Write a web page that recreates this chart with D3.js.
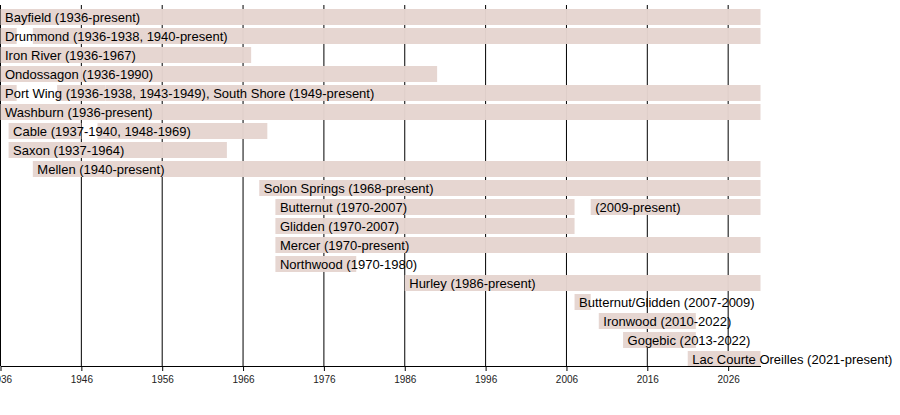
<!DOCTYPE html>
<html>
<head>
<meta charset="utf-8">
<script src="https://cdn.jsdelivr.net/npm/d3@7"></script>
<style>
  body { margin: 0; background: #fff; }
  text { font-family: "Liberation Sans", Arial, sans-serif; }
</style>
</head>
<body>
<div id="chart"></div>
<script>
// chart end ("present")
const END = 2030;

const labels = [
  'Bayfield (1936-present)',
  'Drummond (1936-1938, 1940-present)',
  'Iron River (1936-1967)',
  'Ondossagon (1936-1990)',
  'Port Wing (1936-1938, 1943-1949), South Shore (1949-present)',
  'Washburn (1936-present)',
  'Cable (1937-1940, 1948-1969)',
  'Saxon (1937-1964)',
  'Mellen (1940-present)',
  'Solon Springs (1968-present)',
  'Butternut (1970-2007)',
  'Glidden (1970-2007)',
  'Mercer (1970-present)',
  'Northwood (1970-1980)',
  'Hurley (1986-present)',
  'Butternut/Glidden (2007-2009)',
  'Ironwood (2010-2022)',
  'Gogebic (2013-2022)',
  'Lac Courte Oreilles (2021-present)'
];

// bar segments per row, [from, to]
const periods = [
  [[1936, END]],
  [[1936, 1938], [1940, END]],
  [[1936, 1967]],
  [[1936, 1990]],
  [[1936, 1938], [1943, 1949], [1949, END]],
  [[1936, END]],
  [[1937, 1946], [1948, 1969]],
  [[1937, 1964]],
  [[1940, END]],
  [[1968, END]],
  [[1970, 2007], [2009, END]],
  [[1970, 2007]],
  [[1970, END]],
  [[1970, 1980]],
  [[1986, END]],
  [[2007, 2009]],
  [[2010, 2022]],
  [[2013, 2022]],
  [[2021, END]]
];

// second label on the Butternut row
const extraLabels = [{ row: 10, year: 2009, text: '(2009-present)' }];

const tickYears = d3.range(1936, 2027, 10);

const width = 900, height = 415;
const axisY = 366;

const svg = d3.select('#chart').append('svg')
  .attr('width', width)
  .attr('height', height);

const x = d3.scaleLinear().domain([1936, END]).range([0.5, 760.5]);
const y = d3.scaleLinear().domain([0, labels.length - 1]).range([9, 351]);
const barH = 16;

// grid lines (behind bars)
svg.append('g')
  .selectAll('line')
  .data(tickYears)
  .join('line')
  .attr('x1', d => x(d)).attr('x2', d => x(d))
  .attr('y1', 5).attr('y2', axisY)
  .attr('stroke', '#000')
  .attr('stroke-width', 1);

// bars
const rowG = svg.append('g')
  .selectAll('g')
  .data(periods)
  .join('g')
  .attr('transform', (d, i) => `translate(0,${y(i)})`);

rowG.selectAll('rect')
  .data(d => d)
  .join('rect')
  .attr('x', d => x(d[0]))
  .attr('width', d => x(d[1]) - x(d[0]))
  .attr('height', barH)
  .attr('fill', '#e5d5cf')
  .attr('fill-opacity', 0.97);

// labels
svg.append('g')
  .selectAll('text')
  .data(labels)
  .join('text')
  .attr('x', (d, i) => x(periods[i][0][0]) + 4.5)
  .attr('y', (d, i) => y(i) + barH / 2)
  .attr('dy', '0.36em')
  .attr('font-size', 13)
  .attr('fill', '#000')
  .text(d => d);

svg.append('g')
  .selectAll('text')
  .data(extraLabels)
  .join('text')
  .attr('x', d => x(d.year) + 4.5)
  .attr('y', d => y(d.row) + barH / 2)
  .attr('dy', '0.36em')
  .attr('font-size', 13)
  .attr('fill', '#000')
  .text(d => d.text);

// axis
const axis = d3.axisBottom(x)
  .tickValues(tickYears)
  .tickFormat(d3.format('d'))
  .tickSize(5)
  .tickSizeOuter(0);

const ax = svg.append('g')
  .attr('transform', `translate(0,${axisY})`)
  .call(axis);

ax.select('.domain').attr('stroke', '#000');
ax.selectAll('.tick line').attr('stroke', '#000');
ax.selectAll('.tick text')
  .attr('font-family', '"Liberation Sans", Arial, sans-serif')
  .attr('font-size', 10)
  .attr('fill', '#222')
  .attr('y', 10);
</script>
</body>
</html>
